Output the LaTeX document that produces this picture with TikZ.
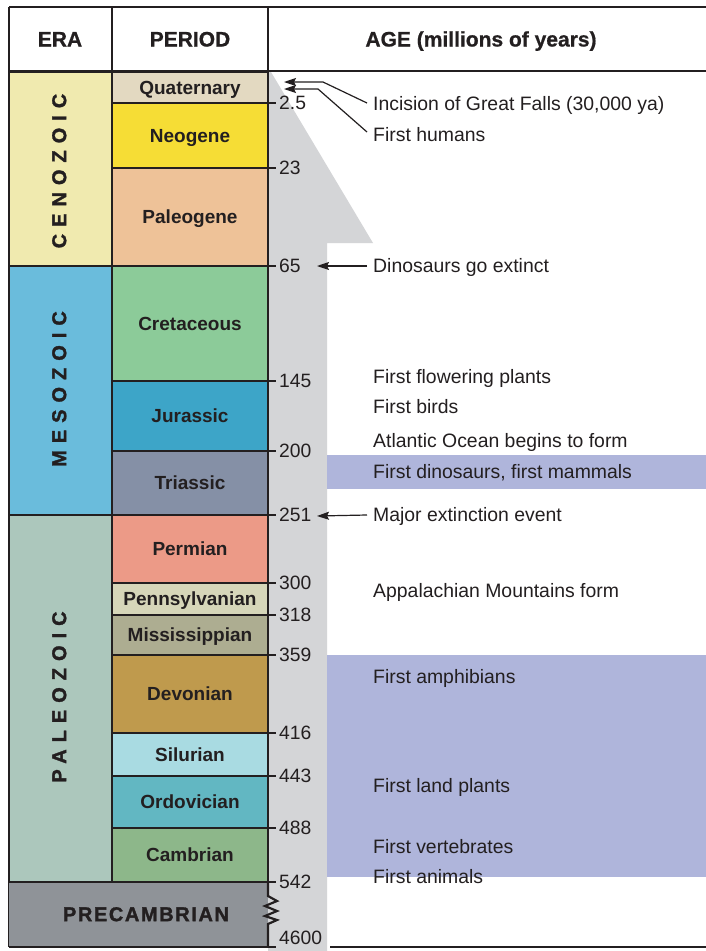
\documentclass[tikz,border=0pt]{standalone}
\usepackage{fontspec}
\setmainfont{Liberation Sans}
\newfontfamily\erafont{Liberation Sans}[LetterSpace=35,BoldFeatures={FakeBold=1.5}]
\newfontfamily\prefont{Liberation Sans}[LetterSpace=8,BoldFeatures={FakeBold=1.5}]
\newfontfamily\hdrfont{Liberation Sans}[BoldFeatures={FakeBold=0.8}]
\usetikzlibrary{arrows.meta}
\definecolor{ink}{HTML}{231F20}
\definecolor{gband}{HTML}{D4D5D7}
\definecolor{hl}{HTML}{AFB5DB}
\definecolor{cQua}{HTML}{E3D9C1}
\definecolor{cNeo}{HTML}{F6DD35}
\definecolor{cPal}{HTML}{EEC298}
\definecolor{cCre}{HTML}{8CCB99}
\definecolor{cJur}{HTML}{3DA5C8}
\definecolor{cTri}{HTML}{8590A6}
\definecolor{cPer}{HTML}{EC9A87}
\definecolor{cPen}{HTML}{D6D6B9}
\definecolor{cMis}{HTML}{ADAD91}
\definecolor{cDev}{HTML}{BF9A4D}
\definecolor{cSil}{HTML}{A9DBE2}
\definecolor{cOrd}{HTML}{62B7C2}
\definecolor{cCam}{HTML}{8DB78A}
\definecolor{cCen}{HTML}{F0EAAF}
\definecolor{cMes}{HTML}{6ABCDC}
\definecolor{cPaz}{HTML}{ACC7BC}
\definecolor{cPre}{HTML}{8F9398}
\tikzset{
  frame/.style={draw=ink, line width=2.2pt},
  perbox/.style={frame, minimum width=156pt, inner sep=0pt, text=ink,
     text height=13.6pt, text depth=0pt,
     font=\fontsize{19}{22}\selectfont\bfseries},
  erabox/.style={frame, minimum width=103pt, inner sep=0pt},
  eralab/.style={rotate=90, inner sep=0pt, text=ink, text height=14.3pt, text depth=0pt,
     font=\fontsize{20}{22}\selectfont\erafont\bfseries},
  hdr/.style={inner sep=0pt, text=ink, text height=15pt, text depth=0pt,
     font=\fontsize{21}{24}\selectfont\hdrfont\bfseries},
  agelab/.style={anchor=west, inner sep=0pt, text=ink, text height=13.8pt, text depth=0pt,
     font=\fontsize{19.3}{22}\selectfont},
  evt/.style={anchor=west, inner sep=0pt, text=ink, text height=13.8pt, text depth=0pt,
     font=\fontsize{19.4}{22}\selectfont},
  tick/.style={draw=ink, line width=1.6pt},
  arr/.style={draw=ink, line width=1.2pt, -{Stealth[length=12pt,width=8pt,inset=2pt]}}
}
\begin{document}
\begin{tikzpicture}[x=1pt,y=-1pt]
\useasboundingbox (0,0) rectangle (706,951);
\fill[white] (0,0) rectangle (706,951);
% gray age band
\fill[gband] (268,72) -- (271,72) -- (373,243) -- (327,243) -- (327,951) -- (268,951) -- cycle;
% highlight bands
\fill[hl] (327,455) rectangle (706,489);
\fill[hl] (327,655) rectangle (706,877);
% header
\draw[frame] (9,7) -- (706,7);
\draw[frame] (9,71) -- (706,71);
\draw[frame] (9,7) -- (9,947);
\draw[frame] (112,7) -- (112,72);
\draw[frame] (268,7) -- (268,72);
\node[hdr] (hera) at (60,39) {ERA};
\node[hdr] (hper) at (190,39) {PERIOD};
\node[hdr] (hage) at (481,39) {AGE (millions of years)};
% eras
\node[erabox, fill=cCen, minimum height=194pt] (cen) at (60.5,169) {};
\node[erabox, fill=cMes, minimum height=249pt] (mes) at (60.5,390.5) {};
\node[erabox, fill=cPaz, minimum height=367pt] (paz) at (60.5,698.5) {};
\node[eralab] (cenl) at (59,171) {CENOZOIC};
\node[eralab] (mesl) at (59,389) {MESOZOIC};
\node[eralab] (pazl) at (59,697) {PALEOZOIC};
% periods
\node[perbox, fill=cQua, minimum height=31pt] (qua) at (190,87.5) {Quaternary};
\node[perbox, fill=cNeo, minimum height=65pt] (neo) at (190,135.5) {Neogene};
\node[perbox, fill=cPal, minimum height=98pt] (pal) at (190,217) {Paleogene};
\node[perbox, fill=cCre, minimum height=115pt] (cre) at (190,323.5) {Cretaceous};
\node[perbox, fill=cJur, minimum height=70pt] (jur) at (190,416) {Jurassic};
\node[perbox, fill=cTri, minimum height=64pt] (tri) at (190,483) {Triassic};
\node[perbox, fill=cPer, minimum height=68pt] (per) at (190,549) {Permian};
\node[perbox, fill=cPen, minimum height=32pt] (pen) at (190,599) {Pennsylvanian};
\node[perbox, fill=cMis, minimum height=40pt] (mis) at (190,635) {Mississippian};
\node[perbox, fill=cDev, minimum height=78pt] (dev) at (190,694) {Devonian};
\node[perbox, fill=cSil, minimum height=43pt] (sil) at (190,754.5) {Silurian};
\node[perbox, fill=cOrd, minimum height=52pt] (ord) at (190,802) {Ordovician};
\node[perbox, fill=cCam, minimum height=54pt] (cam) at (190,855) {Cambrian};
% precambrian
\node[fill=cPre, minimum width=259pt, minimum height=65pt, inner sep=0pt] (pre) at (138.5,914.5) {};
\node[inner sep=0pt, text=ink, text height=14.3pt, text depth=0pt,
      font=\fontsize{20}{22}\selectfont\prefont\bfseries] (prel) at (146,914) {PRECAMBRIAN};
\draw[frame] (9,882) -- (268,882);
\draw[frame] (9,947) -- (268,947);
\draw[frame, line join=miter] (268,882) -- (268,896) -- (277,901) -- (265,906) -- (277,911) -- (265,916) -- (277,920) -- (268,924) -- (268,947);
% ticks and age labels
\foreach \y/\t [count=\i] in {103/2.5,168/23,266/65,381/145,451/200,515/251,583/300,615/318,655/359,733/416,776/443,828/488,882/542}{
  \draw[tick] (268,\y) -- (276,\y);
  \node[agelab] (age\i) at (279,\y) {\t};
}
\draw[tick] (268,947) -- (276,947);
\node[agelab] (age14) at (279,938) {4600};
\draw[frame] (330,947) -- (706,947);
% events
\node[evt] (inc) at (373,104) {Incision of Great Falls (30,000 ya)};
\node[evt] (hum) at (373,135) {First humans};
\node[evt] (dino) at (373,266) {Dinosaurs go extinct};
\node[evt] (flow) at (373,377) {First flowering plants};
\node[evt] (bird) at (373,407) {First birds};
\node[evt] (atl) at (373,441) {Atlantic Ocean begins to form};
\node[evt] (fdm) at (373,472) {First dinosaurs, first mammals};
\node[evt] (maj) at (373,515) {Major extinction event};
\node[evt] (app) at (373,591) {Appalachian Mountains form};
\node[evt] (amph) at (373,677) {First amphibians};
\node[evt] (land) at (373,786) {First land plants};
\node[evt] (vert) at (373,847) {First vertebrates};
\node[evt] (anim) at (373,877) {First animals};
% arrows
\coordinate (t1) at (284,82);
\coordinate (k1) at (323,82);
\coordinate (t2) at (284,89);
\coordinate (k2) at (318,89);
\coordinate (t65) at (317,266);
\coordinate (t251) at (317,516);
\draw[arr] ([xshift=-6pt,yshift=1pt]inc.west) -- (k1) -- (t1);
\draw[arr] ([xshift=-6pt,yshift=3pt]hum.west) -- (k2) -- (t2);
\draw[arr] ([xshift=-6pt]dino.west) -- (t65);
\draw[arr] ([xshift=-6pt]maj.west) -- (t251);
\end{tikzpicture}
\end{document}
